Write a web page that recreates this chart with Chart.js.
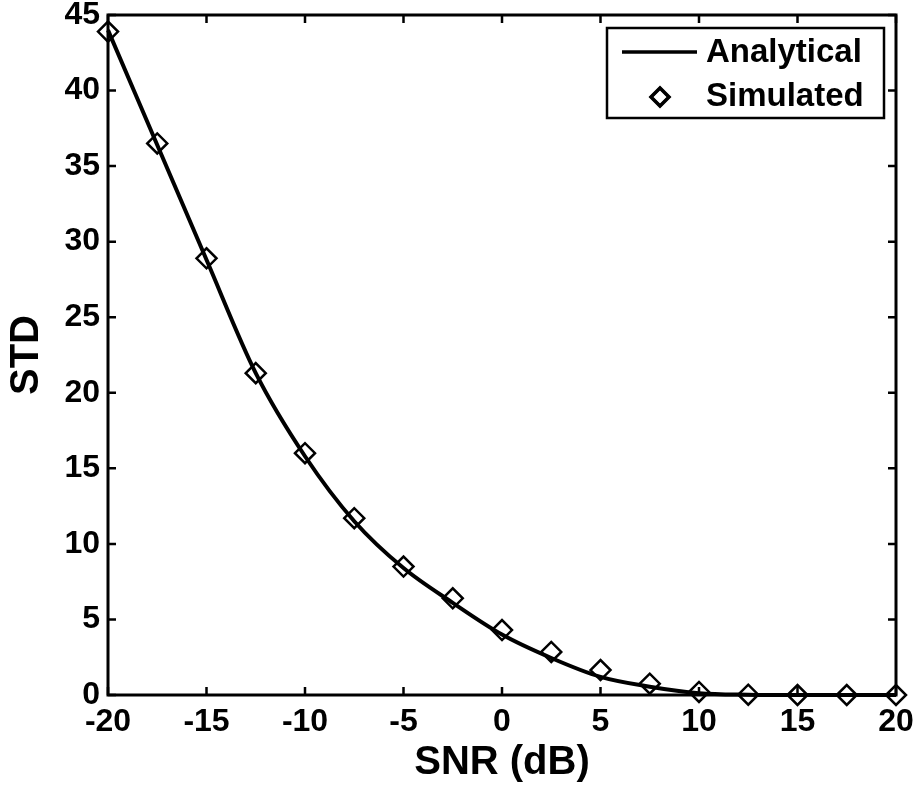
<!DOCTYPE html>
<html>
<head>
<meta charset="utf-8">
<script src="https://cdn.jsdelivr.net/npm/chart.js@4"></script>
<style>
  html, body { margin: 0; padding: 0; background: #fff; }
  #wrap { width: 917px; height: 792px; position: relative; }
</style>
</head>
<body>
<div id="wrap"><canvas id="stdChart"></canvas></div>
<script>
// values
const snrAnalytical = [-20, -17.5, -15, -12.5, -10, -7.5, -5, -2.5, 0, 2.5, 5, 7.5, 10, 12.5, 15, 17.5, 20];
const stdAnalytical = [44.0, 36.4, 28.8, 21.3, 15.8, 11.5, 8.4, 6.1, 4.0, 2.45, 1.2, 0.55, 0.12, 0.02, 0, 0, 0];

const snrSimulated = [-20, -17.5, -15, -12.5, -10, -7.5, -5, -2.5, 0, 2.5, 5, 7.5, 10, 12.5, 15, 17.5, 20];
const stdSimulated = [43.9, 36.5, 28.9, 21.3, 16.0, 11.7, 8.5, 6.4, 4.3, 2.85, 1.65, 0.75, 0.2, 0.02, 0, 0, 0];

const legendLabels = ['Analytical', 'Simulated'];

const FONT = '"Liberation Sans", Arial, sans-serif';

function toXY(xs, ys) {
    return xs.map((x, i) => ({ x: x, y: ys[i] }));
}

// box around the plot, inward ticks on all four sides, and the legend
const framePlugin = {
    id: 'frame',
    afterDraw(chart) {
        const ctx = chart.ctx;
        const area = chart.chartArea;
        const xs = chart.scales.x;
        const ys = chart.scales.y;
        const tl = 8;
        ctx.save();
        ctx.strokeStyle = '#000';
        ctx.lineWidth = 3;
        ctx.strokeRect(area.left, area.top, area.right - area.left, area.bottom - area.top);
        ctx.lineWidth = 2.5;
        ctx.beginPath();
        xs.ticks.forEach(t => {
            const px = xs.getPixelForValue(t.value);
            ctx.moveTo(px, area.bottom); ctx.lineTo(px, area.bottom - tl);
            ctx.moveTo(px, area.top); ctx.lineTo(px, area.top + tl);
        });
        ys.ticks.forEach(t => {
            const py = ys.getPixelForValue(t.value);
            ctx.moveTo(area.left, py); ctx.lineTo(area.left + tl, py);
            ctx.moveTo(area.right, py); ctx.lineTo(area.right - tl, py);
        });
        ctx.stroke();

        // legend
        const bx = 607, by = 28, bw = 277, bh = 90;
        ctx.fillStyle = '#fff';
        ctx.fillRect(bx, by, bw, bh);
        ctx.lineWidth = 2.5;
        ctx.strokeRect(bx, by, bw, bh);
        ctx.lineWidth = 3.5;
        ctx.beginPath();
        ctx.moveTo(622, 52); ctx.lineTo(697, 52);
        ctx.stroke();
        Chart.helpers.drawPoint(ctx, { pointStyle: 'rectRot', radius: 9, borderWidth: 2.5 }, 660, 97);
        ctx.strokeStyle = '#000';
        ctx.lineWidth = 2.5;
        ctx.stroke();
        ctx.fillStyle = '#000';
        ctx.font = 'bold 33px ' + FONT;
        ctx.textAlign = 'left';
        ctx.textBaseline = 'middle';
        ctx.fillText(legendLabels[0], 706, 53);
        ctx.fillText(legendLabels[1], 706, 97);
        ctx.restore();
    }
};

const ctx = document.getElementById('stdChart').getContext('2d');
const stdChart = new Chart(ctx, {
    type: 'line',
    data: {
        datasets: [{
            label: legendLabels[0],
            data: toXY(snrAnalytical, stdAnalytical),
            borderColor: '#000',
            borderWidth: 4,
            pointRadius: 0,
            fill: false,
            cubicInterpolationMode: 'monotone',
            clip: false
        }, {
            label: legendLabels[1],
            data: toXY(snrSimulated, stdSimulated),
            showLine: false,
            pointStyle: 'rectRot',
            pointRadius: 10,
            pointBorderWidth: 2.5,
            pointBorderColor: '#000',
            pointBackgroundColor: 'rgba(0,0,0,0)',
            clip: false
        }]
    },
    options: {
        responsive: true,
        maintainAspectRatio: false,
        animation: false,
        events: [],
        layout: { padding: { top: 15, right: 21, left: 0, bottom: 0 } },
        plugins: {
            legend: { display: false },
            tooltip: { enabled: false }
        },
        scales: {
            x: {
                type: 'linear',
                min: -20,
                max: 20,
                grid: { display: false, drawTicks: false },
                border: { display: false },
                ticks: {
                    stepSize: 5,
                    padding: 8,
                    color: '#000',
                    maxRotation: 0,
                    font: { family: FONT, size: 32, weight: 'bold' }
                },
                title: {
                    display: true,
                    text: 'SNR (dB)',
                    color: '#000',
                    padding: { top: 0, bottom: 5 },
                    font: { family: FONT, size: 40, weight: 'bold' }
                },
                afterFit(scale) {
                    scale.height = 97;
                    scale.paddingLeft = 0;
                    scale.paddingRight = 0;
                }
            },
            y: {
                min: 0,
                max: 45,
                grid: { display: false, drawTicks: false },
                border: { display: false },
                ticks: {
                    stepSize: 5,
                    padding: 8,
                    color: '#000',
                    font: { family: FONT, size: 32, weight: 'bold' }
                },
                title: {
                    display: true,
                    text: 'STD',
                    color: '#000',
                    padding: { top: 3, bottom: 0 },
                    font: { family: FONT, size: 40, weight: 'bold' }
                },
                afterFit(scale) {
                    scale.width = 108;
                    scale.paddingTop = 0;
                    scale.paddingBottom = 0;
                }
            }
        }
    },
    plugins: [framePlugin]
});
</script>
</body>
</html>
